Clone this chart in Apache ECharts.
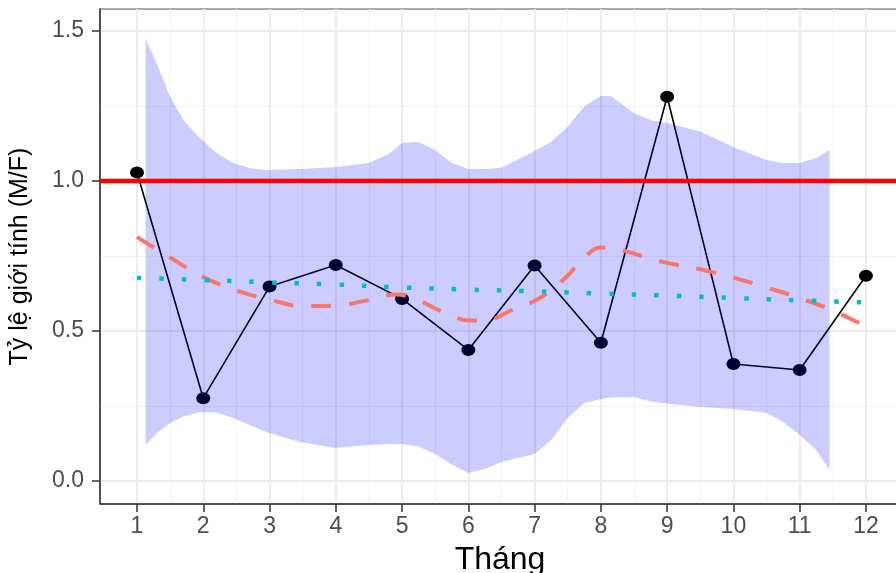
<!DOCTYPE html>
<html>
<head>
<meta charset="utf-8">
<script src="https://cdn.jsdelivr.net/npm/echarts@6/dist/echarts.min.js"></script>
<style>
html,body{margin:0;padding:0;background:#fff;}
#chart{width:896px;height:573px;}
</style>
</head>
<body>
<div id="chart"></div>
<script>
// ---- data ----
const months = [1, 2, 3, 4, 5, 6, 7, 8, 9, 10, 11, 12];
const sexRatio = [1.028, 0.276, 0.648, 0.72, 0.607, 0.437, 0.718, 0.461, 1.281, 0.39, 0.37, 0.684];

const loessX = [1, 1.5, 2, 2.5, 3, 3.5, 4, 4.5, 4.9, 5.2, 5.5, 5.75, 6, 6.3, 6.66, 7, 7.25, 7.5, 7.75, 8, 8.3, 8.65, 9, 9.5, 10, 10.5, 11, 11.5, 12];
const loessY = [0.813, 0.745, 0.68, 0.635, 0.605, 0.583, 0.585, 0.603, 0.622, 0.607, 0.575, 0.55, 0.535, 0.537, 0.57, 0.6, 0.637, 0.685, 0.745, 0.778, 0.77, 0.748, 0.727, 0.706, 0.678, 0.645, 0.61, 0.568, 0.515];

const trendY = [0.677, 0.67, 0.662, 0.655, 0.645, 0.638, 0.632, 0.625, 0.618, 0.61, 0.602, 0.595];

const bandX = [1.13, 1.3, 1.5, 1.7, 1.95, 2.2, 2.45, 2.7, 2.95, 3.45, 4, 4.5, 4.8, 5, 5.25, 5.5, 5.75, 6, 6.25, 6.5, 7, 7.25, 7.5, 7.75, 8, 8.15, 8.5, 8.75, 9, 9.5, 10, 10.5, 10.75, 11, 11.25, 11.45];
const bandUpper = [1.475, 1.39, 1.281, 1.203, 1.143, 1.093, 1.06, 1.043, 1.037, 1.04, 1.047, 1.06, 1.09, 1.127, 1.13, 1.103, 1.06, 1.04, 1.04, 1.044, 1.1, 1.131, 1.181, 1.248, 1.283, 1.283, 1.227, 1.203, 1.193, 1.165, 1.113, 1.07, 1.06, 1.06, 1.077, 1.103];
const bandLower = [0.12, 0.16, 0.193, 0.215, 0.23, 0.228, 0.21, 0.187, 0.163, 0.13, 0.11, 0.12, 0.123, 0.123, 0.115, 0.09, 0.055, 0.027, 0.04, 0.063, 0.09, 0.137, 0.21, 0.26, 0.273, 0.278, 0.28, 0.265, 0.258, 0.247, 0.24, 0.227, 0.197, 0.153, 0.103, 0.037];

const refLine = 1.0;
const yTicks = [0, 0.5, 1.0, 1.5];
const yMinorTicks = [0.25, 0.75, 1.25];
const xTicks = months;
const xMinorTicks = [1.5, 2.5, 3.5, 4.5, 5.5, 6.5, 7.5, 8.5, 9.5, 10.5, 11.5];

const xTitle = 'Tháng';
const yTitle = 'Tỷ lệ giới tính (M/F)';

// ---- build ----
const FONT = '"Liberation Sans", Arial, sans-serif';
const gridLines = [];
yMinorTicks.forEach(v => gridLines.push({yAxis: v, lineStyle: {color: '#F2F2F2', width: 1.2, type: 'solid'}}));
xMinorTicks.forEach(v => gridLines.push({xAxis: v, lineStyle: {color: '#F2F2F2', width: 1.2, type: 'solid'}}));
yTicks.forEach(v => gridLines.push({yAxis: v, lineStyle: {color: '#EBEBEB', width: 1.8, type: 'solid'}}));
xTicks.forEach(v => gridLines.push({xAxis: v, lineStyle: {color: '#EBEBEB', width: 1.8, type: 'solid'}}));

const X_MIN = 0.4417, X_MAX = 12.514;

const chart = echarts.init(document.getElementById('chart'), null, {renderer: 'canvas'});
chart.setOption({
  animation: false,
  backgroundColor: '#ffffff',
  grid: {left: 100, top: 9, width: 800, height: 495, show: true, borderColor: '#555555', borderWidth: 1,
         containLabel: false, outerBoundsMode: 'none'},
  xAxis: {
    type: 'value', min: X_MIN, max: X_MAX,
    splitLine: {show: false},
    axisLine: {show: true, onZero: false, lineStyle: {color: '#333333', width: 1.5}},
    axisTick: {show: true, length: 8, customValues: xTicks, lineStyle: {color: '#333333', width: 1.5}},
    axisLabel: {customValues: xTicks, color: '#4D4D4D', fontSize: 23, fontFamily: FONT, margin: 11},
    name: xTitle, nameLocation: 'middle', nameGap: 40,
    nameTextStyle: {color: '#000', fontSize: 32, fontFamily: FONT}
  },
  yAxis: {
    type: 'value', min: -0.0767, max: 1.5733,
    splitLine: {show: false},
    axisLine: {show: true, onZero: false, lineStyle: {color: '#333333', width: 1.5}},
    axisTick: {show: true, length: 8, customValues: yTicks, lineStyle: {color: '#333333', width: 1.5}},
    axisLabel: {customValues: yTicks, color: '#4D4D4D', fontSize: 23, fontFamily: FONT, margin: 16,
      formatter: v => Number(v).toFixed(1)},
    name: yTitle, nameLocation: 'middle', nameGap: 67,
    nameTextStyle: {color: '#000', fontSize: 25, fontFamily: FONT}
  },
  series: [
    {
      name: 'grid', type: 'line', z: 0, silent: true, symbol: 'none',
      data: [[1, 0]], lineStyle: {opacity: 0},
      markLine: {z: 0, silent: true, symbol: ['none', 'none'], label: {show: false}, emphasis: {disabled: true}, animation: false, data: gridLines}
    },
    {
      name: 'ratio', type: 'line', z: 1,
      data: months.map((m, i) => [m, sexRatio[i]]),
      symbol: 'circle', symbolSize: [14, 12],
      itemStyle: {color: '#000000'},
      lineStyle: {color: '#000000', width: 1.6}
    },
    {
      name: 'band', type: 'custom', z: 2, silent: true, clip: true,
      data: [[bandX[0], bandLower[0]]],
      renderItem: function (params, api) {
        const pts = [];
        for (let i = 0; i < bandX.length; i++) pts.push(api.coord([bandX[i], bandUpper[i]]));
        for (let i = bandX.length - 1; i >= 0; i--) pts.push(api.coord([bandX[i], bandLower[i]]));
        return {type: 'polygon', shape: {points: pts}, style: {fill: 'rgba(0,0,255,0.2)', stroke: null}};
      }
    },
    {
      name: 'loess', type: 'line', z: 3, smooth: 0.4, symbol: 'none',
      data: loessX.map((x, i) => [x, loessY[i]]),
      lineStyle: {color: '#F8766D', width: 4, type: [20, 18], cap: 'butt'}
    },
    {
      name: 'trend', type: 'line', z: 3, smooth: true, symbol: 'none',
      data: months.map((m, i) => [m, trendY[i]]),
      lineStyle: {color: '#00BFC4', width: 4.5, type: [4.5, 18], cap: 'butt'}
    },
    {
      name: 'ref', type: 'line', z: 4, symbol: 'none', silent: true,
      data: [[X_MIN, refLine], [X_MAX, refLine]],
      lineStyle: {color: '#FF0000', width: 4.5}
    }
  ]
});
</script>
</body>
</html>
